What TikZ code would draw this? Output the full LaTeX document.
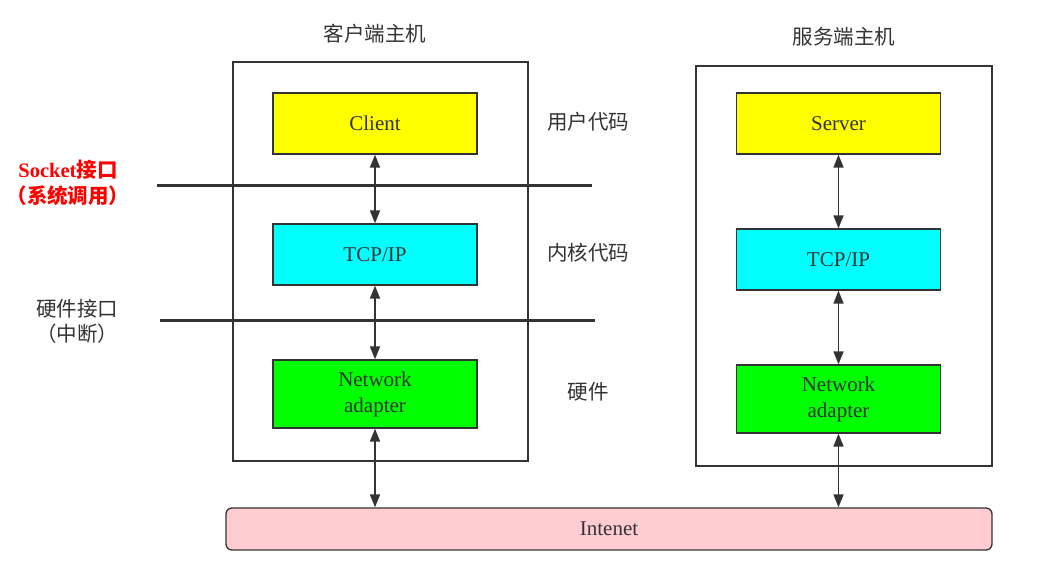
\documentclass[tikz,border=0pt]{standalone}
\usepackage{fontspec}
\setmainfont{Liberation Serif}
\newfontfamily\cjk{Noto Sans CJK SC}
\usetikzlibrary{positioning,arrows.meta}
\definecolor{useryellow}{RGB}{255,255,0}
\definecolor{kernelcyan}{RGB}{0,255,255}
\definecolor{nicgreen}{RGB}{0,255,0}
\definecolor{netpink}{RGB}{255,204,209}
\definecolor{ink}{RGB}{51,51,51}

\begin{document}
\begin{tikzpicture}[
    x=1pt, y=-1pt,
    host/.style = {draw=ink, line width=1.3pt},
    layer/.style = {draw=ink, line width=1.3pt, minimum width=204pt, minimum height=61pt, font=\fontsize{21}{25}\selectfont, text=ink, align=center},
    transition/.style = {{Triangle[length=13pt,width=10pt]}-{Triangle[length=13pt,width=10pt]}, draw=ink, line width=1.6pt},
    boundary/.style = {draw=ink, line width=3pt},
    label/.style = {font=\cjk\fontsize{20.5}{25}\selectfont, text=ink, align=center},
    ]
    \useasboundingbox (0,0) rectangle (1053,572);

    % hosts
    \draw[host] (233,62) rectangle (528,461);
    \draw[host] (696,66) rectangle (992,466);
    \node[label] (chost) at (375,34) {客户端主机};
    \node[label] (shost) at (844,37) {服务端主机};

    % client side
    \node[layer, fill=useryellow] (client) at (375,123.5) {Client};
    \node[layer, fill=kernelcyan] (ctcp) at (375,254.5) {TCP/IP};
    \node[layer, fill=nicgreen, minimum height=68pt, font=\fontsize{21}{26}\selectfont] (cnic) at (375,394) {Network\\adapter};

    % server side
    \node[layer, fill=useryellow] (server) at (838.5,123.5) {Server};
    \node[layer, fill=kernelcyan] (stcp) at (838.5,259.5) {TCP/IP};
    \node[layer, fill=nicgreen, minimum height=68pt, font=\fontsize{21}{26}\selectfont] (snic) at (838.5,399) {Network\\adapter};

    \node[draw=ink, line width=1.3pt, fill=netpink, rounded corners=6pt,
          minimum width=766pt, minimum height=42pt, font=\fontsize{21}{25}\selectfont, text=ink] (net) at (609,529) {Intenet};

    % interfaces
    \node[coordinate] (s1) at (157,186) {};
    \node[coordinate] (s2) at (592,186) {};
    \node[coordinate] (h1) at (160,321) {};
    \node[coordinate] (h2) at (595,321) {};
    \draw[boundary] (s1) -- (s2);
    \draw[boundary] (h1) -- (h2);

    \node[label, font=\cjk\bfseries\fontsize{20.5}{26}\selectfont, text=red] (socket) at (68,183) {{\rmfamily\bfseries Socket}接口\\（系统调用）};
    \node[label] (hwif) at (77,321) {硬件接口\\（中断）};

    \node[label] (user) at (588,122) {用户代码};
    \node[label] (kernel) at (588,253) {内核代码};
    \node[label] (hw) at (588,392) {硬件};

    \draw[transition] (client) -- (ctcp);
    \draw[transition] (ctcp) -- (cnic);
    \draw[transition] (cnic.south) -- (cnic.south |- net.north);
    \draw[transition] (server) -- (stcp);
    \draw[transition] (stcp) -- (snic);
    \draw[transition] (snic.south) -- (snic.south |- net.north);
\end{tikzpicture}
\end{document}
